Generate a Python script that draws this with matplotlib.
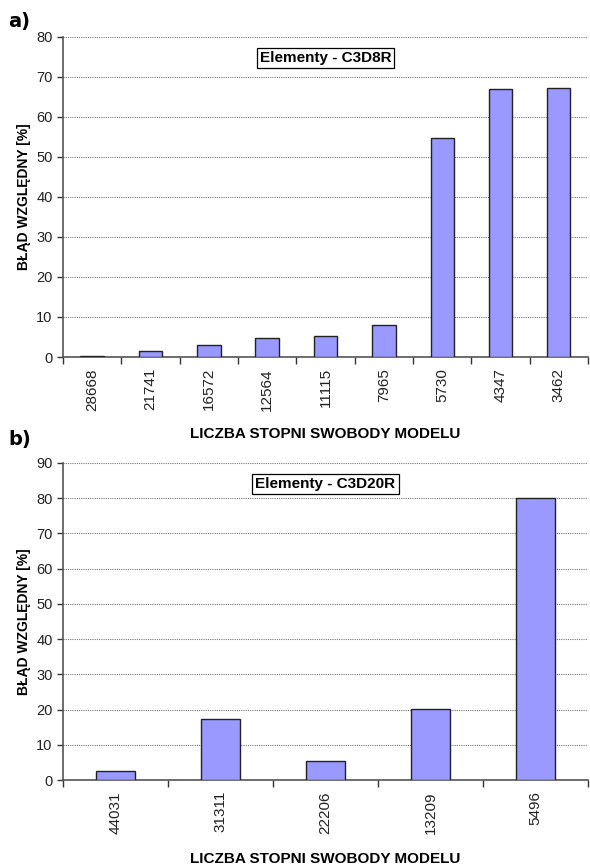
import numpy as np
import matplotlib.pyplot as plt

plt.rcParams['font.family'] = ['Liberation Sans', 'DejaVu Sans']

# panel a) C3D8R
dof_a = ["28668", "21741", "16572", "12564", "11115", "7965", "5730", "4347", "3462"]
err_a = [0.3, 1.4, 3.0, 4.7, 5.3, 8.0, 54.7, 67.1, 67.3]

# panel b) C3D20R
dof_b = ["44031", "31311", "22206", "13209", "5496"]
err_b = [2.6, 17.3, 5.5, 20.2, 80.2]

BAR_COLOR = "#9999FF"
W, H = 590, 865

fig = plt.figure(figsize=(W / 100, H / 100), dpi=100)
fig.patch.set_facecolor("white")


def panel(rect, labels, values, ymax, title, letter, letter_y, bar_w, xlab_pad):
    ax = fig.add_axes(rect)
    x = np.arange(len(labels))
    ax.bar(x, values, width=bar_w, color=BAR_COLOR, edgecolor="#222222", linewidth=1.0, zorder=3)
    ax.set_xlim(-0.5, len(labels) - 0.5)
    ax.set_ylim(0, ymax)
    ax.set_yticks(np.arange(0, ymax + 1, 10))
    ax.yaxis.grid(True, linestyle=(0, (1, 1)), color="#777777", linewidth=0.8, zorder=0)
    ax.set_xticks(np.arange(len(labels) + 1) - 0.5)
    ax.set_xticklabels([])
    ax.set_xticks(x, minor=True)
    ax.set_xticklabels(labels, minor=True, rotation=90, fontsize=11, color="#222222")
    ax.tick_params(axis="x", which="minor", length=0, pad=8)
    ax.tick_params(axis="x", which="major", length=5, width=1, color="#333333")
    ax.tick_params(axis="y", length=4, width=1, color="#333333", labelsize=10.5, labelcolor="#222222")
    for s in ["top", "right"]:
        ax.spines[s].set_visible(False)
    for s in ["left", "bottom"]:
        ax.spines[s].set_color("#555555")
        ax.spines[s].set_linewidth(1.2)
    ax.set_ylabel("BŁĄD WZGLĘDNY [%]", fontsize=10, fontweight="bold", labelpad=4)
    ax.set_xlabel("LICZBA STOPNI SWOBODY MODELU", fontsize=11, fontweight="bold", labelpad=xlab_pad)
    ax.text(0.5, 0.935, title, transform=ax.transAxes, ha="center", va="center",
            fontsize=11, fontweight="bold", zorder=5,
            bbox=dict(boxstyle="square,pad=0.2", facecolor="white", edgecolor="black", linewidth=0.9))
    fig.text(8 / W, letter_y, letter, fontsize=14, fontweight="bold", ha="left", va="center",
             family="DejaVu Sans")
    return ax


# axes rects in figure fractions from pixel geometry
panel([63 / W, 1 - 357 / H, 525 / W, 320 / H], dof_a, err_a, 80,
      "Elementy - C3D8R", "a)", 1 - 22 / H, 0.4, 12)
panel([63 / W, 1 - 780 / H, 525 / W, 317 / H], dof_b, err_b, 90,
      "Elementy - C3D20R", "b)", 1 - 440 / H, 0.38, 13)

fig.savefig("out.png", dpi=100, facecolor="white")
